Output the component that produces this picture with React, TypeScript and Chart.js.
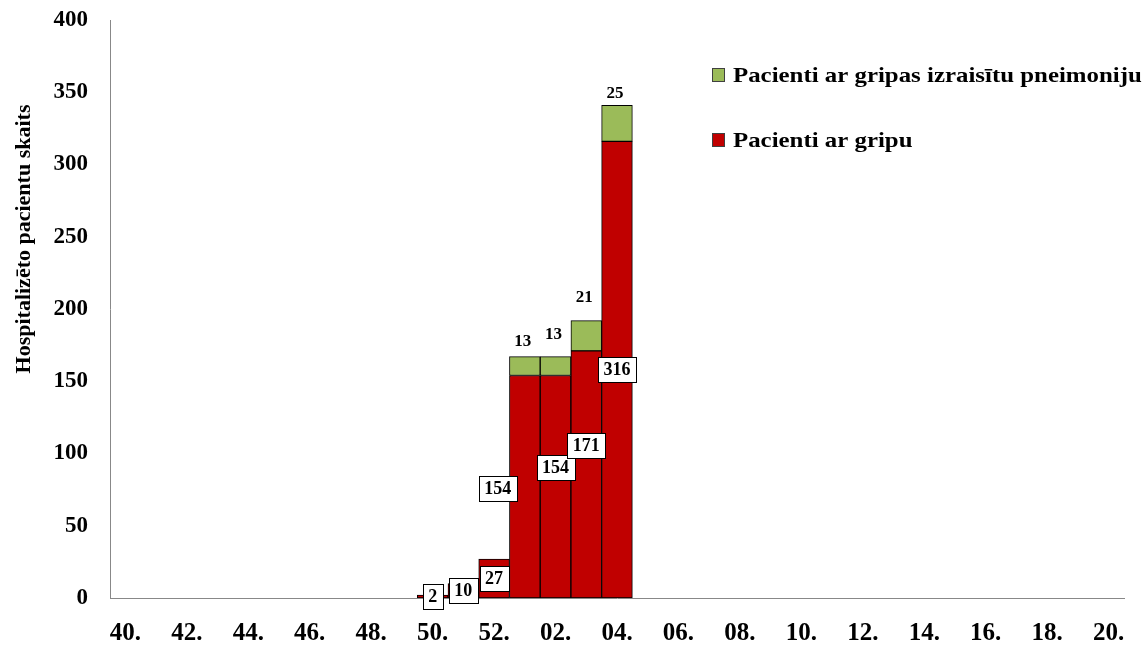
import React, { useEffect, useRef } from "react";
import { Chart, registerables } from "chart.js";

Chart.register(...registerables);

const weeks: string[] = [
  "40.", "41.", "42.", "43.", "44.", "45.", "46.", "47.", "48.", "49.", "50.", "51.", "52.",
  "01.", "02.", "03.", "04.", "05.", "06.", "07.", "08.", "09.", "10.", "11.", "12.", "13.",
  "14.", "15.", "16.", "17.", "18.", "19.", "20.",
];

const fluPatients: (number | null)[] = [
  null, null, null, null, null, null, null, null, null, null, 2, 10, 27,
  154, 154, 171, 316, null, null, null, null, null, null, null, null, null,
  null, null, null, null, null, null, null,
];

const pneumoniaPatients: (number | null)[] = [
  null, null, null, null, null, null, null, null, null, null, null, null, null,
  13, 13, 21, 25, null, null, null, null, null, null, null, null, null,
  null, null, null, null, null, null, null,
];

const yTicks = { min: 0, max: 400, step: 50 };
const yTitle = "Hospitalizēto pacientu skaits";

const FONT = '"Liberation Serif", "Times New Roman", serif';
const RED = "#C00000";
const GREEN = "#9BBB59";

// label placement tweaks (pixels) keyed by category index
const redLabelShift: Record<number, [number, number]> = { 13: [-27, 2], 14: [0, -19], 15: [0, -29] };
const greenLabelLift: Record<number, number> = { 13: 15, 14: 22, 15: 23, 16: 12 };

const labelPlugin = {
  id: "valueLabels",
  afterDatasetsDraw(chart: any) {
    const ctx = chart.ctx as CanvasRenderingContext2D;
    ctx.save();
    const redMeta = chart.getDatasetMeta(0);
    ctx.font = `bold 18px ${FONT}`;
    ctx.textAlign = "center";
    ctx.textBaseline = "middle";
    fluPatients.forEach((v, i) => {
      if (v == null) return;
      const el: any = redMeta.data[i];
      const shift = redLabelShift[i] || [0, 0];
      const x = el.x + shift[0];
      const y = (el.y + el.base) / 2 + shift[1];
      const text = String(v);
      const w = ctx.measureText(text).width + 11;
      const h = 25;
      ctx.fillStyle = "#ffffff";
      ctx.fillRect(Math.round(x - w / 2) + 0.5, Math.round(y - h / 2) + 0.5, Math.round(w), h);
      ctx.strokeStyle = "#000000";
      ctx.lineWidth = 1;
      ctx.strokeRect(Math.round(x - w / 2) + 0.5, Math.round(y - h / 2) + 0.5, Math.round(w), h);
      ctx.fillStyle = "#000000";
      ctx.fillText(text, x, y + 1);
    });
    const greenMeta = chart.getDatasetMeta(1);
    ctx.font = `bold 17px ${FONT}`;
    pneumoniaPatients.forEach((v, i) => {
      if (v == null) return;
      const el: any = greenMeta.data[i];
      const lift = greenLabelLift[i] ?? 15;
      ctx.fillStyle = "#000000";
      ctx.fillText(String(v), el.x - 2, el.y - lift);
    });
    ctx.restore();
  },
  afterDraw(chart: any) {
    const ctx = chart.ctx as CanvasRenderingContext2D;
    ctx.save();
    const items = [
      { color: GREEN, text: chart.data.datasets[1].label, y: 75 },
      { color: RED, text: chart.data.datasets[0].label, y: 140 },
    ];
    ctx.textAlign = "left";
    ctx.textBaseline = "middle";
    items.forEach((it) => {
      ctx.fillStyle = it.color;
      ctx.fillRect(712.5, it.y - 6.5, 12, 13);
      ctx.strokeStyle = "#404040";
      ctx.lineWidth = 1;
      ctx.strokeRect(712.5, it.y - 6.5, 12, 13);
      ctx.save();
      ctx.translate(733, it.y + 1);
      ctx.scale(1.13, 1);
      ctx.font = `bold 22px ${FONT}`;
      ctx.fillStyle = "#000000";
      ctx.fillText(it.text, 0, 0);
      ctx.restore();
    });
    ctx.save();
    ctx.translate(24, 239);
    ctx.rotate(-Math.PI / 2);
    ctx.font = `bold 22px ${FONT}`;
    ctx.textAlign = "center";
    ctx.textBaseline = "middle";
    ctx.fillStyle = "#000000";
    ctx.fillText(yTitle, 0, 0);
    ctx.restore();
    ctx.restore();
  },
};

export default function App() {
  const canvasRef = useRef<HTMLCanvasElement | null>(null);

  useEffect(() => {
    if (!canvasRef.current) return;
    const chart = new Chart(canvasRef.current, {
      type: "bar",
      data: {
        labels: weeks,
        datasets: [
          {
            label: "Pacienti ar gripu",
            data: fluPatients,
            backgroundColor: RED,
            borderColor: "#000000",
            borderWidth: 1,
            borderSkipped: false,
            barPercentage: 1,
            categoryPercentage: 1,
          },
          {
            label: "Pacienti ar gripas izraisītu pneimoniju",
            data: pneumoniaPatients,
            backgroundColor: GREEN,
            borderColor: "#000000",
            borderWidth: 1,
            borderSkipped: false,
            barPercentage: 1,
            categoryPercentage: 1,
          },
        ],
      },
      options: {
        animation: false,
        responsive: false,
        maintainAspectRatio: false,
        layout: { padding: { left: 0, right: 22, top: 20, bottom: 0 } },
        plugins: {
          legend: { display: false },
          tooltip: { enabled: false },
        },
        scales: {
          x: {
            stacked: true,
            grid: { display: false, drawTicks: false },
            border: { display: true, color: "#888888", width: 1 },
            ticks: {
              autoSkip: false,
              maxRotation: 0,
              minRotation: 0,
              padding: 21,
              color: "#000000",
              font: { family: FONT, size: 25, weight: "bold" },
              callback: (_v: any, i: number) => (i % 2 === 0 ? weeks[i] : ""),
            },
            afterFit: (s: any) => {
              s.height = 48;
              s.paddingLeft = 0;
              s.paddingRight = 0;
            },
          },
          y: {
            stacked: true,
            min: yTicks.min,
            max: yTicks.max,
            grid: { display: false, drawTicks: false },
            border: { display: true, color: "#888888", width: 1 },
            ticks: {
              stepSize: yTicks.step,
              padding: 22,
              color: "#000000",
              font: { family: FONT, size: 23, weight: "bold" },
            },
            afterFit: (s: any) => {
              s.width = 110;
              s.paddingTop = 0;
              s.paddingBottom = 0;
            },
          },
        },
      },
      plugins: [labelPlugin],
    });
    return () => chart.destroy();
  }, []);

  return (
    <div style={{ position: "absolute", left: 0, top: 0, width: 1146, height: 646, background: "#fff" }}>
      <canvas ref={canvasRef} width={1146} height={646} style={{ width: 1146, height: 646 }} />
    </div>
  );
}
